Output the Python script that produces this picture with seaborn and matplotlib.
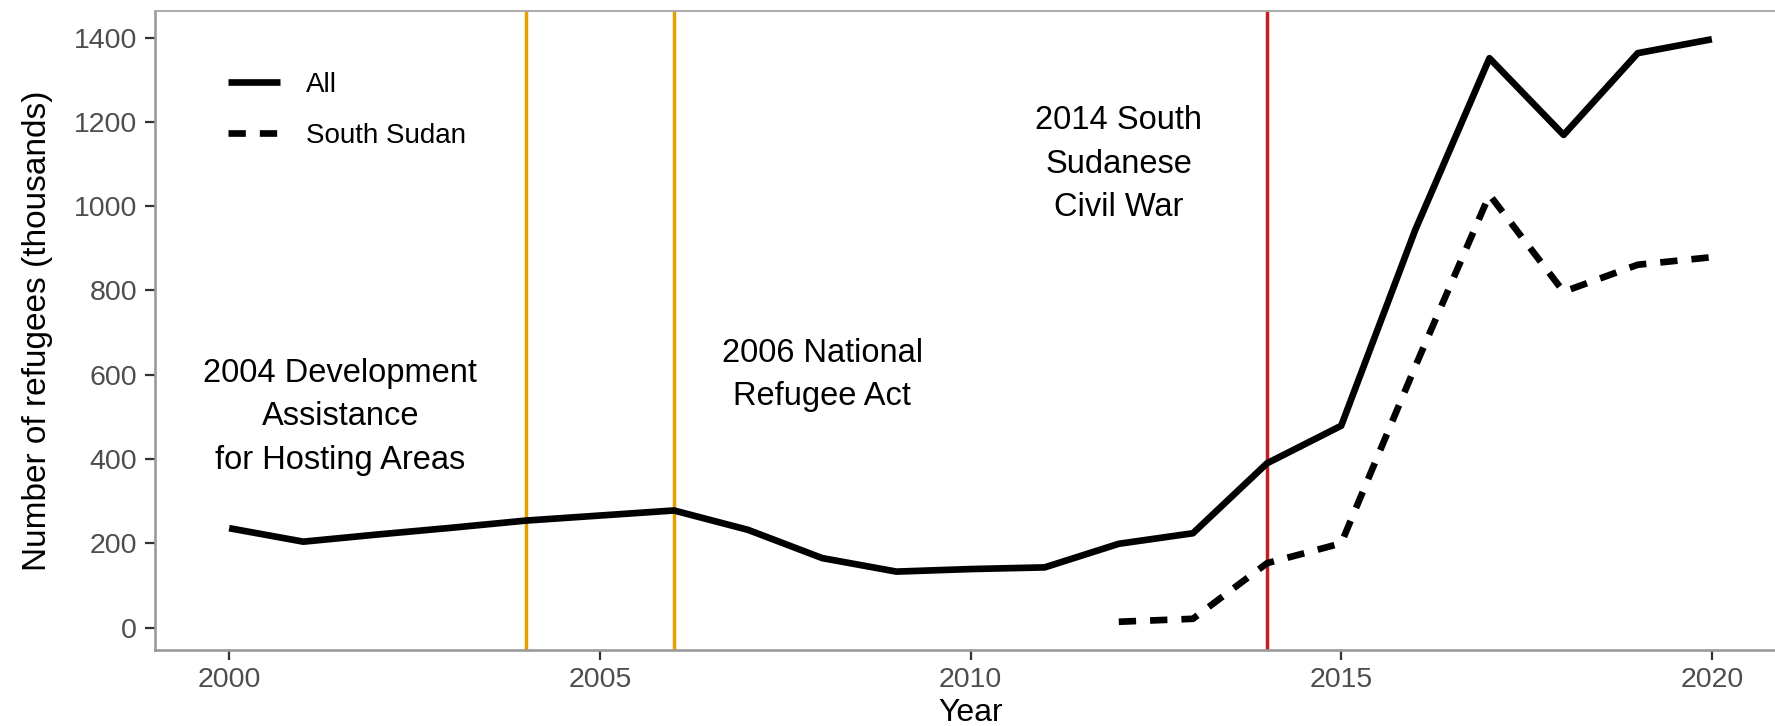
import pandas as pd
import matplotlib
matplotlib.use("Agg")
import matplotlib.pyplot as plt
import seaborn as sns

# refugee numbers in thousands
years_all = list(range(2000, 2021))
refugees_all = [236, 204, 221, 237, 254, 266, 278, 232, 165, 133, 139,
                143, 199, 224, 390, 479, 944, 1351, 1169, 1363, 1396]
years_ss = list(range(2012, 2021))
refugees_ss = [14, 21, 153, 200, 620, 1027, 797, 861, 879]

series_names = ["All", "South Sudan"]
policy_years = [2004, 2006]
war_year = 2014
x_ticks = [2000, 2005, 2010, 2015, 2020]
y_ticks = [0, 200, 400, 600, 800, 1000, 1200, 1400]

notes = [
    (2001.5, 500, "2004 Development\nAssistance\nfor Hosting Areas"),
    (2008.0, 600, "2006 National\nRefugee Act"),
    (2012.0, 1100, "2014 South\nSudanese\nCivil War"),
]

df = pd.concat([
    pd.DataFrame({"Year": years_all, "Refugees": refugees_all, "Series": series_names[0]}),
    pd.DataFrame({"Year": years_ss, "Refugees": refugees_ss, "Series": series_names[1]}),
], ignore_index=True)

sns.set_style("white")
plt.rcParams["font.family"] = ["Liberation Sans", "DejaVu Sans"]
plt.rcParams["text.color"] = "black"
plt.rcParams["axes.labelcolor"] = "black"

W, H = 1775, 726
fig = plt.figure(figsize=(W / 100, H / 100), dpi=100)
ax = fig.add_axes([155 / W, 1 - 650 / H, 1631 / W, 639 / H])

for yr in policy_years:
    ax.axvline(yr, color="#E69F00", lw=2.5, zorder=1)
ax.axvline(war_year, color="#C41E1E", lw=2.5, zorder=1)

sns.lineplot(data=df, x="Year", y="Refugees", style="Series", color="black",
             dashes={"All": "", "South Sudan": (2.6, 2.1)}, lw=4.8,
             solid_capstyle="butt", ax=ax, zorder=3)

for x, y, txt in notes:
    ax.text(x, y, txt, ha="center", va="center", fontsize=23.5, linespacing=1.52,
            color="black")

ax.set_xlim(1999, 2021)
ax.set_ylim(-53, 1463)
ax.set_xticks(x_ticks)
ax.set_yticks(y_ticks)
ax.set_xlabel("Year", fontsize=23, labelpad=4)
ax.set_ylabel("Number of refugees (thousands)", fontsize=24, labelpad=15)
ax.tick_params(axis="both", direction="out", length=7, width=1.6, color="#333333",
               labelcolor="#4D4D4D", labelsize=20.5, pad=5, bottom=True, left=True)
ax.tick_params(axis="y", pad=6)

for side in ["left", "bottom"]:
    ax.spines[side].set_color("#9a9a9a")
    ax.spines[side].set_linewidth(1.9)
ax.spines["top"].set_color("#aaaaaa")
ax.spines["top"].set_linewidth(1.4)
ax.spines["right"].set_visible(False)

handles, labels = ax.get_legend_handles_labels()
ax.legend(handles, labels, loc="upper left", bbox_to_anchor=(0.045, 0.905),
          frameon=False, fontsize=20, handlelength=1.85, handletextpad=0.95,
          labelspacing=0.9, borderaxespad=0, borderpad=0)

fig.savefig("out.png", dpi=100)
